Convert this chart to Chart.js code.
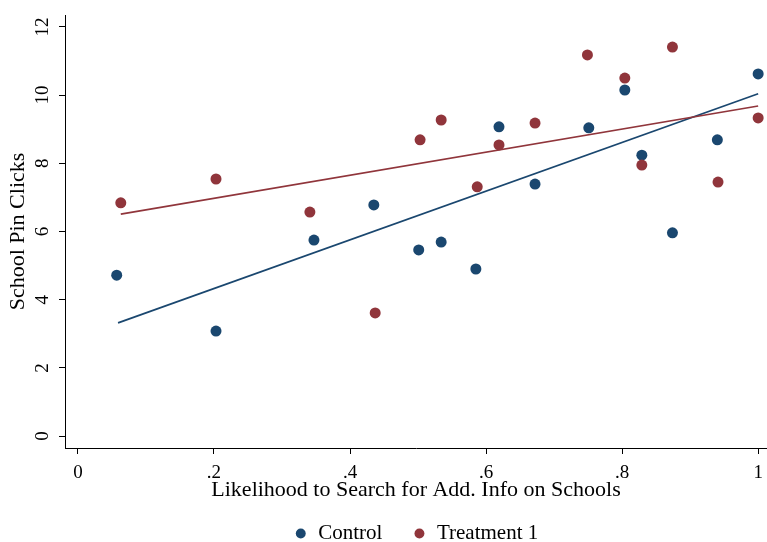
<!DOCTYPE html>
<html>
<head>
<meta charset="utf-8">
<script src="https://cdn.jsdelivr.net/npm/chart.js@4"></script>
<style>
  html, body { margin: 0; padding: 0; background: #fff; }
  #wrap { width: 767px; height: 542px; }
</style>
</head>
<body>
<div id="wrap"><canvas id="chart" width="767" height="542"></canvas></div>
<script>
// Likelihood to search (x) vs school pin clicks (y)
var controlX = [0.057, 0.203, 0.347, 0.435, 0.501, 0.534, 0.585, 0.619, 0.672, 0.751, 0.804, 0.829, 0.874, 0.940, 1.000];
var controlY = [4.72, 3.08, 5.75, 6.78, 5.46, 5.69, 4.90, 9.07, 7.39, 9.04, 10.15, 8.24, 5.96, 8.69, 10.62];

var treatX = [0.063, 0.203, 0.341, 0.437, 0.503, 0.534, 0.587, 0.619, 0.672, 0.749, 0.804, 0.829, 0.874, 0.941, 1.000];
var treatY = [6.84, 7.54, 6.57, 3.61, 8.69, 9.27, 7.31, 8.54, 9.18, 11.18, 10.50, 7.95, 11.41, 7.45, 9.33];

// linear fit lines (endpoints)
var controlFitX = [0.059, 1.0];
var controlFitY = [3.32, 10.04];
var treatFitX = [0.063, 1.0];
var treatFitY = [6.51, 9.68];

var xTicks = [0, 0.2, 0.4, 0.6, 0.8, 1];
var xTickLabels = ['0', '.2', '.4', '.6', '.8', '1'];
var yTicks = [0, 2, 4, 6, 8, 10, 12];
var yTickLabels = ['0', '2', '4', '6', '8', '10', '12'];

var navy = '#1a476f';
var maroon = '#90353b';
var serif = '"Liberation Serif", "Times New Roman", serif';

function pts(xs, ys) {
  return xs.map(function (x, i) { return { x: x, y: ys[i] }; });
}

// y tick labels rotated like Stata
var rotatedYTicks = {
  id: 'rotatedYTicks',
  afterDraw: function (chart) {
    var sc = chart.scales.y;
    var ctx = chart.ctx;
    ctx.save();
    ctx.fillStyle = '#000';
    ctx.font = '19px ' + serif;
    ctx.textAlign = 'center';
    ctx.textBaseline = 'alphabetic';
    sc.ticks.forEach(function (t, i) {
      var py = sc.getPixelForValue(t.value);
      ctx.save();
      ctx.translate(sc.right - 17, py);
      ctx.rotate(-Math.PI / 2);
      ctx.fillText(yTickLabels[i], 0, 0);
      ctx.restore();
    });
    ctx.restore();
  }
};

new Chart(document.getElementById('chart'), {
  type: 'scatter',
  data: {
    datasets: [
      { label: 'Control', data: pts(controlX, controlY), backgroundColor: navy, borderColor: navy, borderWidth: 0, pointRadius: 5.5, pointHoverRadius: 5.5, order: 3 },
      { label: 'Treatment 1', data: pts(treatX, treatY), backgroundColor: maroon, borderColor: maroon, borderWidth: 0, pointRadius: 5.5, pointHoverRadius: 5.5, order: 2 },
      { label: 'fitC', data: pts(controlFitX, controlFitY), showLine: true, borderColor: navy, borderWidth: 1.7, pointRadius: 0, fill: false, order: 1 },
      { label: 'fitT', data: pts(treatFitX, treatFitY), showLine: true, borderColor: maroon, borderWidth: 1.7, pointRadius: 0, fill: false, order: 0 }
    ]
  },
  options: {
    responsive: false,
    animation: false,
    layout: { autoPadding: false, padding: { top: 15, left: 0, right: 0, bottom: -12 } },
    plugins: {
      legend: {
        position: 'bottom',
        fullSize: false,
        labels: {
          usePointStyle: true,
          pointStyle: 'circle',
          boxWidth: 14,
          boxHeight: 7,
          padding: 30,
          color: '#000',
          font: { family: serif, size: 21 },
          filter: function (item) { return item.text.indexOf('fit') !== 0; },
          sort: function (a, b) { return a.datasetIndex - b.datasetIndex; }
        }
      },
      tooltip: { enabled: false }
    },
    scales: {
      x: {
        type: 'linear',
        min: -0.019,
        max: 1.013,
        afterBuildTicks: function (sc) { sc.ticks = xTicks.map(function (v) { return { value: v }; }); },
        afterFit: function (sc) { sc.height = 45; },
        ticks: {
          color: '#000',
          padding: 0,
          maxRotation: 0,
          font: { family: serif, size: 19, lineHeight: 2.05 },
          callback: function (v, i) { return xTickLabels[i]; }
        },
        grid: { display: true, drawOnChartArea: false, drawTicks: true, tickLength: 6, color: '#000', lineWidth: 1 },
        border: { display: true, color: '#000', width: 1 },
        title: {
          display: true,
          text: 'Likelihood to Search for Add. Info on Schools',
          color: '#000',
          font: { family: serif, size: 22 },
          padding: { top: 0, bottom: -10 }
        }
      },
      y: {
        type: 'linear',
        min: -0.35,
        max: 12.35,
        afterBuildTicks: function (sc) { sc.ticks = yTicks.map(function (v) { return { value: v }; }); },
        afterFit: function (sc) { sc.width = 65; },
        ticks: { display: false },
        grid: { display: true, drawOnChartArea: false, drawTicks: true, tickLength: 6, color: '#000', lineWidth: 1 },
        border: { display: true, color: '#000', width: 1 },
        title: {
          display: true,
          text: 'School Pin Clicks',
          color: '#000',
          font: { family: serif, size: 22 },
          padding: { top: 5, bottom: 0 }
        }
      }
    }
  },
  plugins: [rotatedYTicks]
});
</script>
</body>
</html>
